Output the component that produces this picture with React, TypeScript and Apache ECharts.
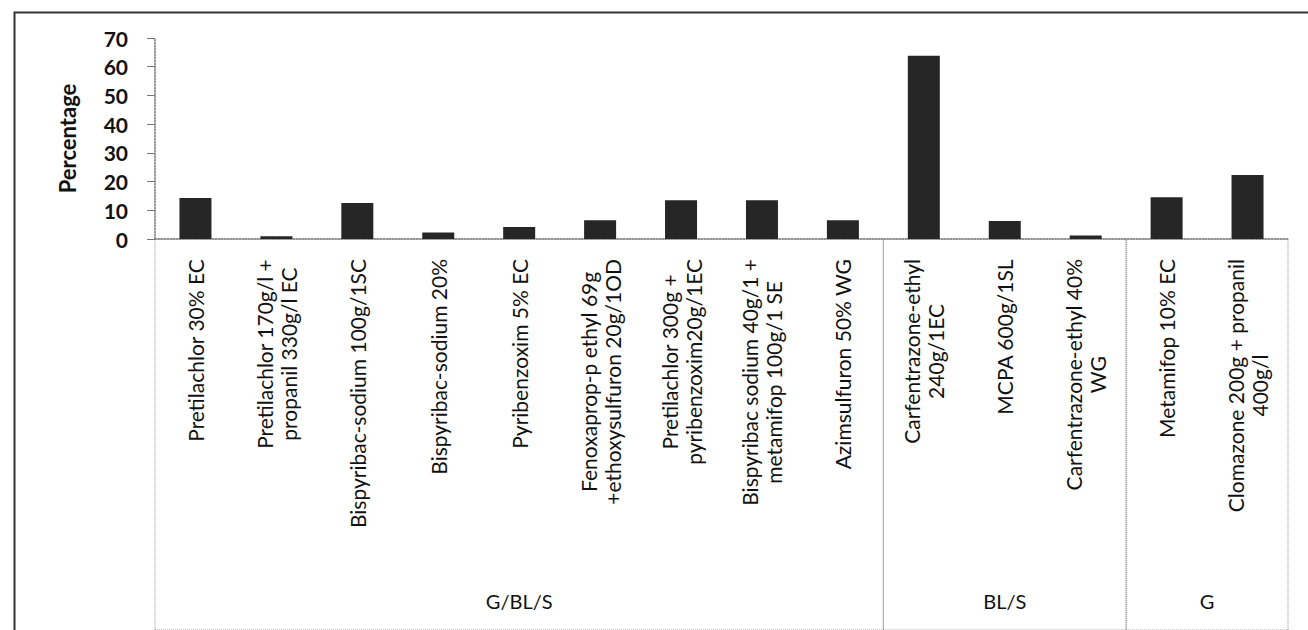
import React, { useEffect, useRef } from "react";
import * as echarts from "echarts";

const categories: string[] = [
  "Pretilachlor 30% EC",
  "Pretilachlor 170g/l +\npropanil 330g/l EC",
  "Bispyribac-sodium 100g/1SC",
  "Bispyribac-sodium 20%",
  "Pyribenzoxim 5% EC",
  "Fenoxaprop-p ethyl 69g\n+ethoxysulfuron 20g/1OD",
  "Pretilachlor 300g +\npyribenzoxim20g/1EC",
  "Bispyribac sodium 40g/1 +\nmetamifop 100g/1 SE",
  "Azimsulfuron 50% WG",
  "Carfentrazone-ethyl\n240g/1EC",
  "MCPA 600g/1SL",
  "Carfentrazone-ethyl 40%\nWG",
  "Metamifop 10% EC",
  "Clomazone 200g + propanil\n400g/l",
];

const percentages: number[] = [14.3, 1.0, 12.5, 2.3, 4.2, 6.5, 13.5, 13.5, 6.5, 63.8, 6.3, 1.2, 14.5, 22.3];

const groupNames: string[] = ["G/BL/S", "BL/S", "G"];
const groupSizes: number[] = [9, 3, 2];

const yTicks: number[] = [0, 10, 20, 30, 40, 50, 60, 70];

const FONT = "Lato, 'Noto Sans', sans-serif";

export default function App() {
  const ref = useRef<HTMLDivElement>(null);

  useEffect(() => {
    if (!ref.current) return;
    const chart = echarts.init(ref.current, undefined, { renderer: "svg" });

    const areas: any[] = [];
    let start = 0;
    groupNames.forEach((name, i) => {
      const end = start + groupSizes[i];
      areas.push([{ xAxis: start, name }, { xAxis: end }]);
      start = end;
    });

    chart.setOption({
      animation: false,
      backgroundColor: "#ffffff",
      textStyle: { fontFamily: FONT },
      graphic: [
        {
          type: "rect",
          left: 12,
          top: 10,
          shape: { width: 1400, height: 700 },
          style: { fill: "none", stroke: "#333", lineWidth: 2 },
          silent: true,
          z: -1,
        },
      ],
      grid: [
        { left: 155, right: 20, top: 38, height: 201 },
        { left: 155, right: 20, top: 239, bottom: 0 },
      ],
      xAxis: [
        {
          type: "category",
          gridIndex: 0,
          data: categories,
          boundaryGap: true,
          axisLine: { show: true, lineStyle: { color: "#777", type: "dotted", width: 1.5 } },
          axisTick: { show: false },
          axisLabel: {
            interval: 0,
            rotate: 90,
            margin: 20,
            color: "#111",
            fontSize: 21,
            lineHeight: 24,
            fontFamily: FONT,
            formatter: (v: string) =>
              v
                .split("\n")
                .map((l) => `{c|${l}}`)
                .join("\n"),
            rich: {
              c: { align: "center", fontSize: 21, lineHeight: 24, fontFamily: FONT, color: "#111" },
            },
          },
        },
        {
          type: "value",
          gridIndex: 1,
          min: 0,
          max: categories.length,
          show: false,
        },
      ],
      yAxis: [
        {
          type: "value",
          gridIndex: 0,
          min: 0,
          max: yTicks[yTicks.length - 1],
          interval: yTicks[1] - yTicks[0],
          name: "Percentage",
          nameLocation: "middle",
          nameGap: 77,
          nameTextStyle: { fontSize: 22, fontWeight: "bold", color: "#111", fontFamily: FONT },
          axisLine: { show: true, lineStyle: { color: "#777", type: "dotted", width: 1.5 } },
          axisTick: { show: true, length: 8, lineStyle: { color: "#777" } },
          splitLine: { show: false },
          axisLabel: { fontSize: 21, fontWeight: "bold", color: "#111", margin: 27, fontFamily: FONT },
        },
        {
          type: "value",
          gridIndex: 1,
          min: 0,
          max: 1,
          show: false,
        },
      ],
      series: [
        {
          type: "bar",
          xAxisIndex: 0,
          yAxisIndex: 0,
          data: percentages,
          barWidth: 32,
          itemStyle: { color: "#262626" },
        },
        {
          type: "scatter",
          xAxisIndex: 1,
          yAxisIndex: 1,
          data: [],
          markArea: {
            silent: true,
            itemStyle: {
              color: "rgba(0,0,0,0)",
              borderColor: "#888",
              borderWidth: 1,
              borderType: "dotted",
            },
            label: {
              show: true,
              position: "insideBottom",
              distance: 20,
              color: "#111",
              fontSize: 20,
              fontFamily: FONT,
            },
            data: areas,
          },
        },
      ],
    });

    return () => chart.dispose();
  }, []);

  return (
    <div
      ref={ref}
      style={{ position: "absolute", left: 0, top: 0, width: 1308, height: 630 }}
    />
  );
}
